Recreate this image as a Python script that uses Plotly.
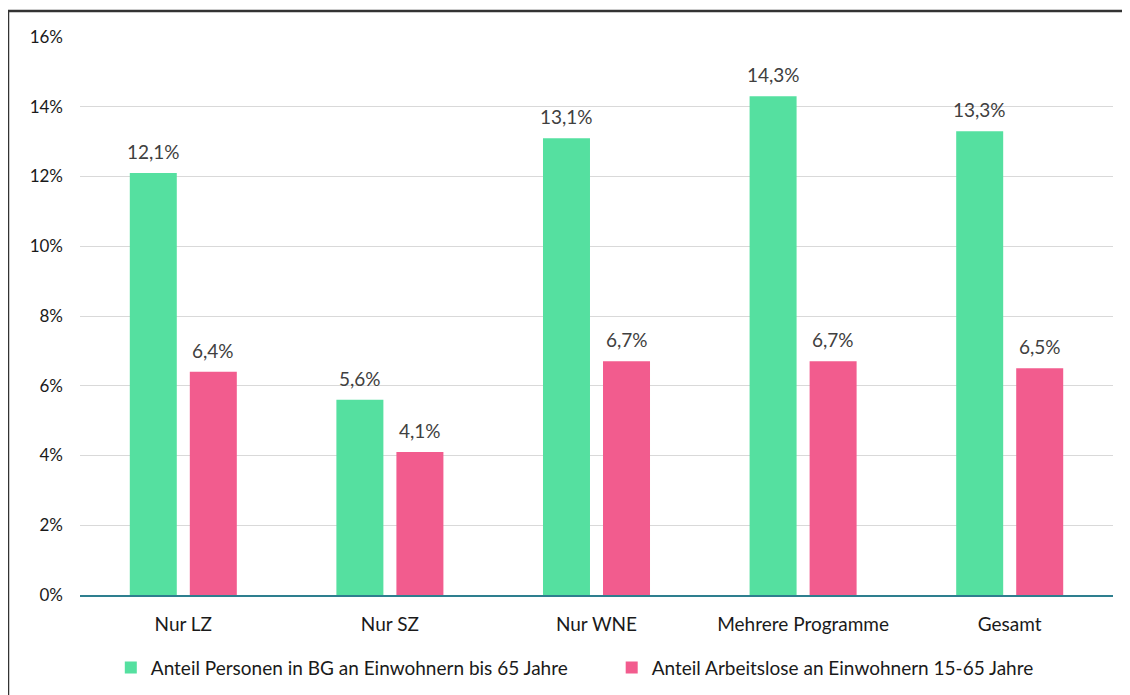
import plotly.graph_objects as go

categories = ["Nur LZ", "Nur SZ", "Nur WNE", "Mehrere Programme", "Gesamt"]
bg_share = [12.1, 5.6, 13.1, 14.3, 13.3]
al_share = [6.4, 4.1, 6.7, 6.7, 6.5]
series_names = ["Anteil Personen in BG an Einwohnern bis 65 Jahre",
                "Anteil Arbeitslose an Einwohnern 15-65 Jahre"]
y_ticks = [0, 2, 4, 6, 8, 10, 12, 14, 16]

GREEN = "#55E0A0"
PINK = "#F25C8E"
FONT = "Lato, 'Open Sans', sans-serif"
FS = 19

fig = go.Figure()
fig.add_trace(go.Bar(x=categories, y=bg_share, name=series_names[0] + "&nbsp;" * 8,
                     marker=dict(color=GREEN, line=dict(width=0))))
fig.add_trace(go.Bar(x=categories, y=al_share, name=series_names[1],
                     marker=dict(color=PINK, line=dict(width=0))))

annotations = []
for vals, shift in ((bg_share, -30), (al_share, 30)):
    for c, v in zip(categories, vals):
        annotations.append(dict(x=c, y=v, xref="x", yref="y", xshift=shift, yshift=8,
                                text=(f"{v:.1f}".replace(".", ",") + "%"),
                                showarrow=False, yanchor="bottom",
                                font=dict(size=FS, color="#404040", family=FONT)))

fig.update_layout(
    width=1130, height=695,
    margin=dict(l=72, r=25, t=29, b=108, autoexpand=False),
    plot_bgcolor="white", paper_bgcolor="white",
    barmode="group", bargap=0.419, bargroupgap=0.217,
    font=dict(family=FONT, size=FS, color="#1a1a1a"),
    showlegend=True,
    legend=dict(orientation="h", x=0.479, xanchor="center", y=-0.096, yanchor="top",
                font=dict(size=FS, family=FONT, color="#1a1a1a"), traceorder="normal"),
    annotations=annotations,
    separators=",.",
    shapes=[dict(type="rect", xref="paper", yref="paper", x0=-0.0697, x1=1.05,
                 y0=-0.3, y1=1.0466, line=dict(color="#333333", width=2.5),
                 fillcolor="rgba(0,0,0,0)", layer="above")],
)
fig.update_yaxes(range=[0, 16], tickvals=y_ticks, ticktext=[f"{t}%" for t in y_ticks],
                 showgrid=True, gridcolor="#D9D9D9", gridwidth=1.3, zeroline=False,
                 showline=False, ticks="", ticklabelstandoff=16,
                 tickfont=dict(size=17, family=FONT, color="#1a1a1a"))
fig.update_xaxes(showline=True, linecolor="#2E7F8F", linewidth=1.5, ticks="",
                 ticklabelstandoff=11, tickfont=dict(size=FS, family=FONT, color="#1a1a1a"))

fig.write_html("out.html")
